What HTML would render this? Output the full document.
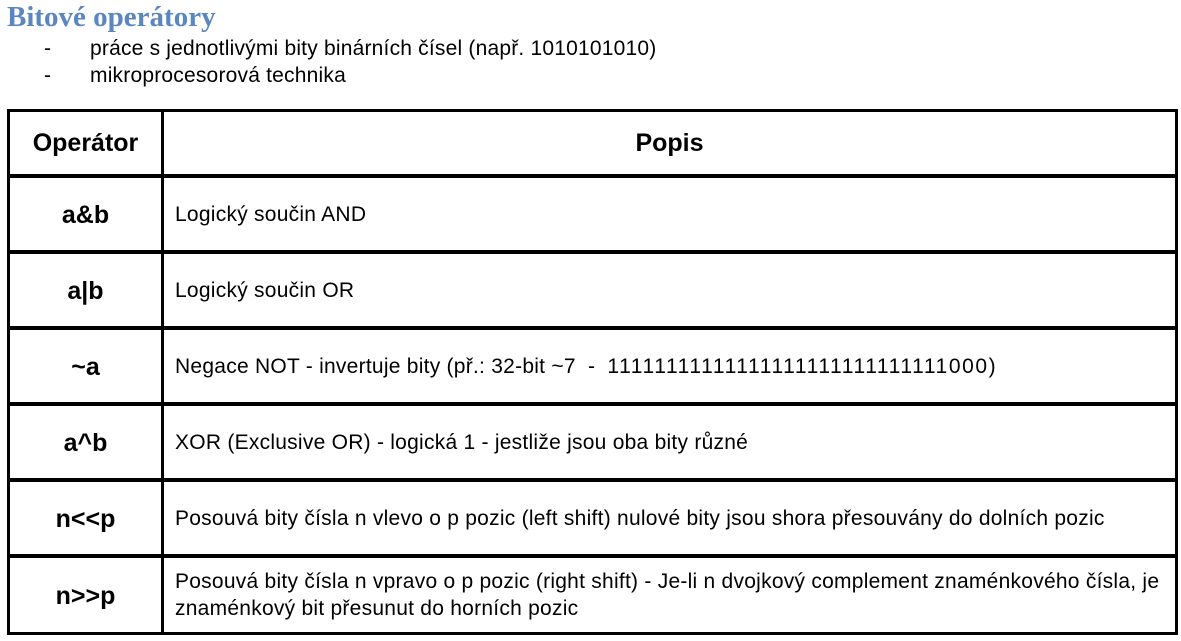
<!DOCTYPE html>
<html><head><meta charset="utf-8"><style>
body{margin:0;width:1181px;height:641px;background:#fff;position:relative;overflow:hidden;font-family:"Liberation Sans",sans-serif;color:#000}
.a{position:absolute;white-space:nowrap}
.h{font-family:"Liberation Serif",serif;font-weight:bold;color:#5b87c0;font-size:29px;left:7px;top:1px}
.b{font-size:21px;letter-spacing:0.2px}
.l{position:absolute;background:#000}
.op{position:absolute;left:9px;width:153px;text-align:center;font-weight:bold;font-size:25px}
.d{position:absolute;left:175px;font-size:21px;white-space:nowrap;letter-spacing:0.25px}
</style></head><body>
<div class="a h">Bitové operátory</div>
<div class="a b" style="left:44px;top:37px">-</div>
<div class="a b" style="left:90px;top:37px">práce s jednotlivými bity binárních čísel (např. 1010101010)</div>
<div class="a b" style="left:44px;top:64px">-</div>
<div class="a b" style="left:90px;top:64px">mikroprocesorová technika</div>

<div class="l" style="left:7px;top:109px;width:1171px;height:3px"></div>
<div class="l" style="left:7px;top:174px;width:1171px;height:4px"></div>
<div class="l" style="left:7px;top:250px;width:1171px;height:4px"></div>
<div class="l" style="left:7px;top:326px;width:1171px;height:4px"></div>
<div class="l" style="left:7px;top:402px;width:1171px;height:4px"></div>
<div class="l" style="left:7px;top:478px;width:1171px;height:4px"></div>
<div class="l" style="left:7px;top:554px;width:1171px;height:4px"></div>
<div class="l" style="left:7px;top:632px;width:1171px;height:3px"></div>
<div class="l" style="left:7px;top:109px;width:3px;height:526px"></div>
<div class="l" style="left:161px;top:109px;width:3px;height:526px"></div>
<div class="l" style="left:1175px;top:109px;width:3px;height:526px"></div>

<div class="op" style="top:129px">Operátor</div>
<div class="a" style="left:164px;width:1011px;text-align:center;top:129px;font-weight:bold;font-size:25px">Popis</div>

<div class="op" style="top:201px">a&amp;b</div>
<div class="d" style="top:203px">Logický součin AND</div>
<div class="op" style="top:277px">a|b</div>
<div class="d" style="top:279px">Logický součin OR</div>
<div class="op" style="top:353px">~a</div>
<div class="d" style="top:355px">Negace NOT - invertuje bity (př.: 32-bit ~7 &nbsp;- &nbsp;<span style="letter-spacing:1.6px">11111111111111111111111111111000)</span></div>
<div class="op" style="top:429px">a^b</div>
<div class="d" style="top:431px">XOR (Exclusive OR) - logická 1 - jestliže jsou oba bity různé</div>
<div class="op" style="top:505px">n&lt;&lt;p</div>
<div class="d" style="top:507px">Posouvá bity čísla n vlevo o p pozic (left shift) nulové bity jsou shora přesouvány do dolních pozic</div>
<div class="op" style="top:582px">n&gt;&gt;p</div>
<div class="d" style="top:570px">Posouvá bity čísla n vpravo o p pozic (right shift) - Je-li n dvojkový complement znaménkového čísla, je</div>
<div class="d" style="top:597px">znaménkový bit přesunut do horních pozic</div>
</body></html>
